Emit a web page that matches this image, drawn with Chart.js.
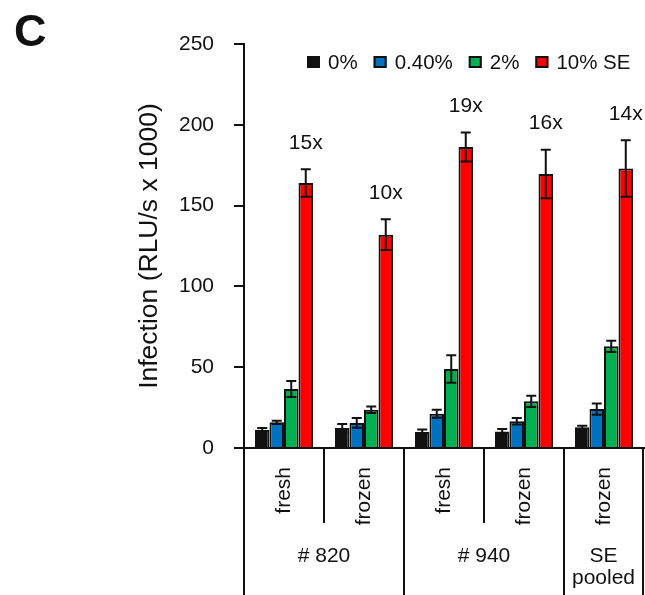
<!DOCTYPE html>
<html>
<head>
<meta charset="utf-8">
<script src="https://cdn.jsdelivr.net/npm/chart.js@4/dist/chart.umd.min.js"></script>
<style>
  html, body { margin: 0; padding: 0; background: #ffffff; }
  #wrap { width: 645px; height: 595px; position: relative; }
</style>
</head>
<body>
<div id="wrap"><canvas id="chart" width="645" height="595"></canvas></div>
<script>
// Sample state under each bar group, and the donor each belongs to
const categories = ['fresh', 'frozen', 'fresh', 'frozen', 'frozen'];
const donorLabels = [['# 820'], ['# 940'], ['SE', 'pooled']];
const donorSpans = [2, 2, 1];

// SE concentrations
const seriesNames = ['0%', '0.40%', '2%', '10% SE'];
const seriesColors = ['#111111', '#0070C0', '#00B050', '#FF0000'];

// Infection, RLU/s x 1000 (mean and error)
const values0 = [11.3, 12.4, 9.9, 10.2, 12.8];
const errors0 = [1.0, 2.5, 1.5, 1.5, 1.0];
const values04 = [15.9, 15.5, 21.2, 16.5, 24.1];
const errors04 = [1.0, 3.0, 2.5, 2.0, 3.5];
const values2 = [36.5, 23.7, 48.9, 28.9, 62.9];
const errors2 = [5.0, 2.0, 8.5, 3.5, 3.5];
const values10 = [164.0, 132.0, 186.3, 169.6, 172.9];
const errors10 = [8.5, 9.5, 9.0, 15.0, 17.5];

// Fold enhancement of 10% SE over 0%
const foldLabels = ['15x', '10x', '19x', '16x', '14x'];

// Y axis ticks
const yMin = 0, yMax = 250, yStep = 50;

const FONT = '"Liberation Sans", Arial, Helvetica, sans-serif';
const INK = '#111111';
Chart.defaults.font.family = FONT;
Chart.defaults.color = INK;

const seriesValues = [values0, values04, values2, values10];
const seriesErrors = [errors0, errors04, errors2, errors10];

const datasets = seriesNames.map((name, i) => ({
  label: name,
  data: seriesValues[i],
  errors: seriesErrors[i],
  backgroundColor: seriesColors[i],
  borderColor: INK,
  borderWidth: 2,
  borderSkipped: 'bottom',
  categoryPercentage: 0.725,
  barPercentage: 1.0
}));

// Error bars drawn over the bars
const errorBarPlugin = {
  id: 'errorBars',
  afterDatasetsDraw(chart) {
    const ctx = chart.ctx;
    const y = chart.scales.y;
    ctx.save();
    ctx.strokeStyle = INK;
    ctx.lineWidth = 2;
    chart.data.datasets.forEach((ds, di) => {
      const meta = chart.getDatasetMeta(di);
      meta.data.forEach((bar, i) => {
        const v = ds.data[i], e = ds.errors[i];
        const yTop = y.getPixelForValue(v + e);
        const yBot = y.getPixelForValue(Math.max(0, v - e));
        const cx = bar.x, cap = 5;
        ctx.beginPath();
        ctx.moveTo(cx, yTop); ctx.lineTo(cx, yBot);
        ctx.moveTo(cx - cap, yTop); ctx.lineTo(cx + cap, yTop);
        ctx.moveTo(cx - cap, yBot); ctx.lineTo(cx + cap, yBot);
        ctx.stroke();
      });
    });
    ctx.restore();
  }
};

// Fold-change labels above the 10% SE bars
const foldPlugin = {
  id: 'foldLabels',
  afterDatasetsDraw(chart) {
    const ctx = chart.ctx;
    const y = chart.scales.y;
    const last = chart.data.datasets.length - 1;
    const ds = chart.data.datasets[last];
    const meta = chart.getDatasetMeta(last);
    ctx.save();
    ctx.fillStyle = INK;
    ctx.font = '21px ' + FONT;
    ctx.textAlign = 'center';
    ctx.textBaseline = 'middle';
    meta.data.forEach((bar, i) => {
      const top = y.getPixelForValue(ds.data[i] + ds.errors[i]);
      ctx.fillText(foldLabels[i], bar.x, top - 26);
    });
    ctx.restore();
  }
};

// Hierarchical category axis: sample state, then donor, with dividers
const categoryAxisPlugin = {
  id: 'categoryAxis',
  afterDraw(chart) {
    const ctx = chart.ctx;
    const x = chart.scales.x;
    const area = chart.chartArea;
    const n = categories.length;
    const bounds = [area.left];
    for (let i = 0; i < n - 1; i++) {
      bounds.push((x.getPixelForValue(i) + x.getPixelForValue(i + 1)) / 2);
    }
    bounds.push(area.right - 1);
    const base = area.bottom;
    const full = chart.height;
    const inner = base + 75;

    const donorEdges = new Set([0]);
    let acc = 0;
    donorSpans.forEach(s => { acc += s; donorEdges.add(acc); });

    ctx.save();
    ctx.strokeStyle = INK;
    ctx.lineWidth = 2;
    bounds.forEach((bx, k) => {
      ctx.beginPath();
      ctx.moveTo(bx, base);
      ctx.lineTo(bx, donorEdges.has(k) ? full : inner);
      ctx.stroke();
    });

    ctx.fillStyle = INK;
    ctx.font = '21px ' + FONT;
    categories.forEach((lab, i) => {
      ctx.save();
      ctx.translate(x.getPixelForValue(i), base + 19);
      ctx.rotate(-Math.PI / 2);
      ctx.textAlign = 'right';
      ctx.textBaseline = 'middle';
      ctx.fillText(lab, 0, 0);
      ctx.restore();
    });

    ctx.textAlign = 'center';
    ctx.textBaseline = 'alphabetic';
    let start = 0;
    donorLabels.forEach((lines, d) => {
      const cx = (bounds[start] + bounds[start + donorSpans[d]]) / 2;
      lines.forEach((ln, j) => ctx.fillText(ln, cx, base + 114 + j * 22));
      start += donorSpans[d];
    });
    ctx.restore();
  }
};

// Legend row inside the plot, top right
const legendPlugin = {
  id: 'insideLegend',
  afterDraw(chart) {
    const ctx = chart.ctx;
    const area = chart.chartArea;
    ctx.save();
    ctx.font = '20.5px ' + FONT;
    ctx.textBaseline = 'middle';
    ctx.textAlign = 'left';
    let px = area.left + 63;
    const cy = area.top + 18;
    chart.data.datasets.forEach(ds => {
      ctx.fillStyle = ds.backgroundColor;
      ctx.fillRect(px, cy - 6, 13, 12);
      ctx.strokeStyle = INK;
      ctx.lineWidth = 2;
      ctx.strokeRect(px + 1, cy - 5, 11, 10);
      px += 13 + 8;
      ctx.fillStyle = INK;
      ctx.fillText(ds.label, px, cy + 1);
      px += ctx.measureText(ds.label).width + 16;
    });
    ctx.restore();
  }
};

// Panel letter
const panelPlugin = {
  id: 'panelLetter',
  afterDraw(chart) {
    const ctx = chart.ctx;
    ctx.save();
    ctx.fillStyle = INK;
    ctx.font = 'bold 45px ' + FONT;
    ctx.textAlign = 'left';
    ctx.textBaseline = 'alphabetic';
    ctx.fillText('C', 14, 46);
    ctx.restore();
  }
};

new Chart(document.getElementById('chart'), {
  type: 'bar',
  data: { labels: categories, datasets },
  options: {
    responsive: false,
    animation: false,
    layout: { padding: { left: 0, right: 1, top: 44, bottom: 147 } },
    plugins: { legend: { display: false }, tooltip: { enabled: false } },
    scales: {
      x: {
        offset: true,
        grid: { display: false, drawTicks: false },
        ticks: { display: false },
        border: { display: true, color: INK, width: 2 },
        afterFit(s) { s.height = 0; }
      },
      y: {
        min: yMin,
        max: yMax,
        ticks: { stepSize: yStep, padding: 20, color: INK, font: { size: 21 } },
        grid: { drawOnChartArea: false, drawTicks: true, tickLength: 10, lineWidth: 2, color: INK },
        border: { display: true, color: INK, width: 2 },
        title: {
          display: true,
          text: 'Infection (RLU/s x 1000)',
          color: INK,
          font: { size: 26.5 },
          padding: { top: 134, bottom: 0 }
        },
        afterFit(s) { s.width = 244; }
      }
    }
  },
  plugins: [errorBarPlugin, foldPlugin, categoryAxisPlugin, legendPlugin, panelPlugin]
});
</script>
</body>
</html>
